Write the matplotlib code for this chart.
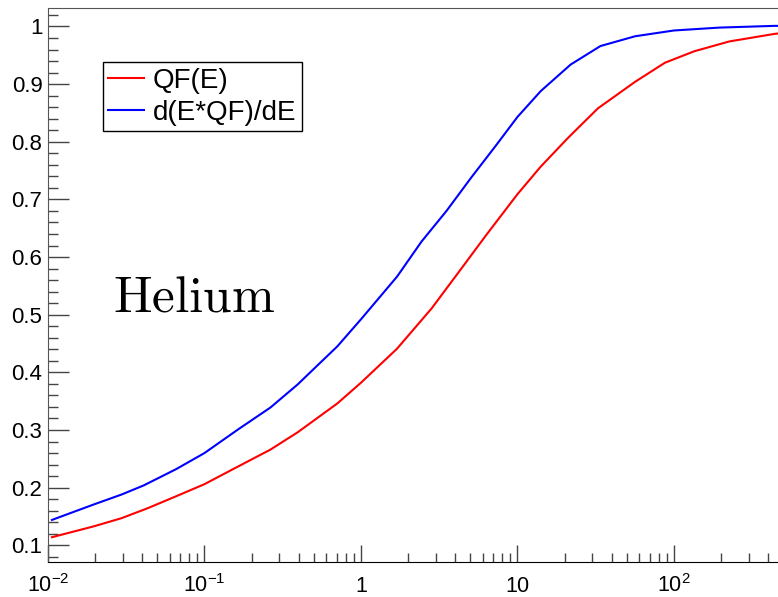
import numpy as np
import matplotlib
matplotlib.use("Agg")
import matplotlib.pyplot as plt
from matplotlib.ticker import FixedLocator, LogLocator, NullFormatter, MultipleLocator, FuncFormatter

plt.rcParams['font.family'] = ['Liberation Sans', 'DejaVu Sans']
plt.rcParams['mathtext.fontset'] = 'custom'
plt.rcParams['mathtext.rm'] = 'Liberation Sans'
plt.rcParams['mathtext.it'] = 'Liberation Sans:italic'
plt.rcParams['mathtext.bf'] = 'Liberation Sans:bold'

# energy points and curves
E_qf = [0.0106, 0.0197, 0.0295, 0.044, 0.0658, 0.1, 0.152, 0.264, 0.394, 0.706, 1.0, 1.70,
        2.83, 4.38, 6.31, 10, 14.1, 21.1, 32.7, 56.5, 87.5, 135, 226, 437, 470]
qf = [0.114, 0.133, 0.147, 0.165, 0.185, 0.206, 0.232, 0.266, 0.296, 0.346, 0.382, 0.441,
      0.511, 0.580, 0.638, 0.709, 0.757, 0.807, 0.858, 0.904, 0.937, 0.957, 0.974, 0.987, 0.988]

E_d = [0.0106, 0.0197, 0.0295, 0.041, 0.0658, 0.1, 0.164, 0.264, 0.394, 0.527, 0.706, 1.0,
       1.70, 2.44, 3.52, 5.07, 7.31, 10, 14.1, 21.9, 33.9, 56.5, 100, 195, 437, 470]
dqf = [0.144, 0.171, 0.188, 0.204, 0.232, 0.260, 0.301, 0.339, 0.379, 0.412, 0.445, 0.492,
       0.566, 0.627, 0.680, 0.738, 0.794, 0.843, 0.888, 0.934, 0.966, 0.983, 0.993, 0.998, 1.001, 1.001]

xticks = [1e-2, 1e-1, 1, 10, 1e2]
xlabels = ['$10^{-2}$', '$10^{-1}$', '$1$', '$10$', '$10^{2}$']

fig = plt.figure(figsize=(7.78, 5.97), dpi=100)
ax = fig.add_axes([48/778, 1 - 562/597, 1 - 48/778, (562 - 8)/597])

ax.plot(E_qf, qf, color='#ff0000', lw=1.5, label='QF(E)')
ax.plot(E_d, dqf, color='#0000ff', lw=1.5, label='d(E*QF)/dE')

ax.set_xscale('log')
ax.set_xlim(0.01, 10**2.665)
ax.set_ylim(0.071, 1.032)

ax.xaxis.set_major_locator(FixedLocator(xticks))
ax.set_xticklabels(xlabels)
ax.xaxis.set_minor_locator(LogLocator(base=10, subs=np.arange(2, 10)))
ax.xaxis.set_minor_formatter(NullFormatter())
ax.yaxis.set_major_locator(MultipleLocator(0.1))
ax.yaxis.set_minor_locator(MultipleLocator(0.02))
ax.yaxis.set_major_formatter(FuncFormatter(lambda v, p: '%g' % round(v, 2)))

ax.tick_params(axis='both', which='both', direction='in', top=False, right=False, color='#444444')
ax.tick_params(axis='y', which='major', length=15, width=1, pad=4, labelsize=16)
ax.tick_params(axis='y', which='minor', length=7.5, width=1)
ax.tick_params(axis='x', which='major', length=12.4, width=1, pad=21.5, labelsize=15.5)
ax.tick_params(axis='x', which='minor', length=6.5, width=1)
for lbl in ax.get_xticklabels():
    lbl.set_va('baseline')

ax.spines['right'].set_visible(False)
ax.spines['left'].set_color('#555555')
ax.spines['top'].set_color('#555555')
ax.spines['bottom'].set_color('black')

leg = ax.legend(loc='upper left', bbox_to_anchor=(102.5/778, 1 - 62.4/597), bbox_transform=fig.transFigure,
                fontsize=20, frameon=True, fancybox=False, edgecolor='black', framealpha=1,
                borderaxespad=0, borderpad=0.2, handlelength=1.3, handletextpad=0.32, labelspacing=0.2)
leg.get_frame().set_linewidth(1)

ax.text(113/778, 1 - 312/597, r'$\mathrm{Helium}$', transform=fig.transFigure, fontsize=37,
        math_fontfamily='cm', va='baseline', ha='left')

fig.savefig('out.png', dpi=100)
